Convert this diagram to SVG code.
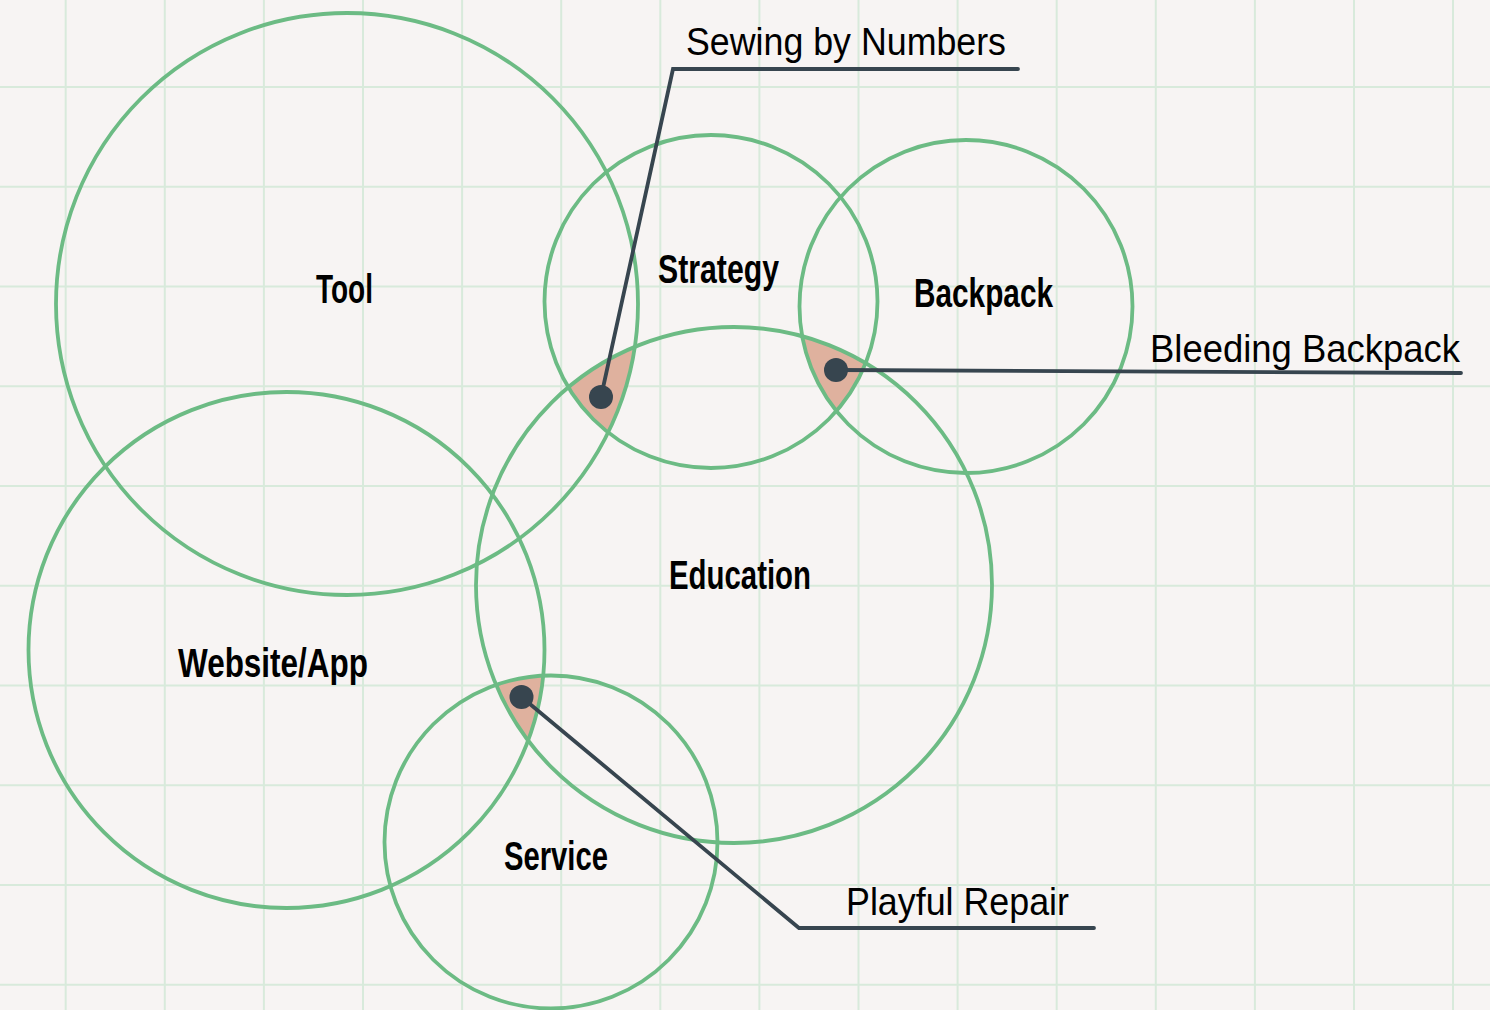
<svg xmlns="http://www.w3.org/2000/svg" width="1490" height="1010" viewBox="0 0 1490 1010">
<style>
.grid line{stroke:#d8eadb;stroke-width:2}
.ring{fill:none;stroke:#6cbb84;stroke-width:3.8}
.overlap{fill:#dfb19e;stroke:none}
.lead{fill:none;stroke:#37454f;stroke-width:3.8;stroke-linecap:round;stroke-linejoin:miter}
.dot{fill:#37454f}
.lbl{font-family:"Liberation Sans Narrow","Liberation Sans",Arial,sans-serif;font-weight:bold;font-size:40px;fill:#000}
.note{font-family:"Liberation Sans Narrow","Liberation Sans",Arial,sans-serif;font-weight:normal;font-size:39px;fill:#000}
</style>
<defs>
<clipPath id="cTool"><circle cx="347" cy="304" r="291"/></clipPath>
<clipPath id="cStrat"><circle cx="711" cy="301.5" r="166.5"/></clipPath>
<clipPath id="cBack"><circle cx="966" cy="306.5" r="166.5"/></clipPath>
<clipPath id="cWeb"><circle cx="286.5" cy="650" r="258"/></clipPath>
<clipPath id="cServ"><circle cx="551" cy="842" r="166.5"/></clipPath>
</defs>
<rect x="0" y="0" width="1490" height="1010" fill="#f7f4f3"/>
<g class="grid">
<line x1="65.7" y1="0" x2="65.7" y2="1010"/>
<line x1="164.8" y1="0" x2="164.8" y2="1010"/>
<line x1="263.9" y1="0" x2="263.9" y2="1010"/>
<line x1="363" y1="0" x2="363" y2="1010"/>
<line x1="462.1" y1="0" x2="462.1" y2="1010"/>
<line x1="561.2" y1="0" x2="561.2" y2="1010"/>
<line x1="660.3" y1="0" x2="660.3" y2="1010"/>
<line x1="759.4" y1="0" x2="759.4" y2="1010"/>
<line x1="858.5" y1="0" x2="858.5" y2="1010"/>
<line x1="957.6" y1="0" x2="957.6" y2="1010"/>
<line x1="1056.7" y1="0" x2="1056.7" y2="1010"/>
<line x1="1155.8" y1="0" x2="1155.8" y2="1010"/>
<line x1="1254.9" y1="0" x2="1254.9" y2="1010"/>
<line x1="1354" y1="0" x2="1354" y2="1010"/>
<line x1="1453" y1="0" x2="1453" y2="1010"/>
<line x1="0" y1="87" x2="1490" y2="87"/>
<line x1="0" y1="186.7" x2="1490" y2="186.7"/>
<line x1="0" y1="286.5" x2="1490" y2="286.5"/>
<line x1="0" y1="386.2" x2="1490" y2="386.2"/>
<line x1="0" y1="486" x2="1490" y2="486"/>
<line x1="0" y1="585.7" x2="1490" y2="585.7"/>
<line x1="0" y1="685.4" x2="1490" y2="685.4"/>
<line x1="0" y1="785.2" x2="1490" y2="785.2"/>
<line x1="0" y1="884.9" x2="1490" y2="884.9"/>
<line x1="0" y1="984.7" x2="1490" y2="984.7"/>
</g>
<g id="overlaps">
<g clip-path="url(#cTool)"><g clip-path="url(#cStrat)"><circle class="overlap" cx="734" cy="585" r="258"/></g></g>
<g clip-path="url(#cStrat)"><g clip-path="url(#cBack)"><circle class="overlap" cx="734" cy="585" r="258"/></g></g>
<g clip-path="url(#cWeb)"><g clip-path="url(#cServ)"><circle class="overlap" cx="734" cy="585" r="258"/></g></g>
</g>
<g id="tool"><circle class="ring" cx="347" cy="304" r="291"/><text class="lbl" x="316" y="303" textLength="57" lengthAdjust="spacingAndGlyphs">Tool</text></g>
<g id="strategy"><circle class="ring" cx="711" cy="301.5" r="166.5"/><text class="lbl" x="658" y="283" textLength="121" lengthAdjust="spacingAndGlyphs">Strategy</text></g>
<g id="backpack"><circle class="ring" cx="966" cy="306.5" r="166.5"/><text class="lbl" x="914" y="307" textLength="139" lengthAdjust="spacingAndGlyphs">Backpack</text></g>
<g id="education"><circle class="ring" cx="734" cy="585" r="258"/><text class="lbl" x="669" y="589" textLength="142" lengthAdjust="spacingAndGlyphs">Education</text></g>
<g id="website"><circle class="ring" cx="286.5" cy="650" r="258"/><text class="lbl" x="178" y="677" textLength="190" lengthAdjust="spacingAndGlyphs">Website/App</text></g>
<g id="service"><circle class="ring" cx="551" cy="842" r="166.5"/><text class="lbl" x="504" y="870" textLength="104" lengthAdjust="spacingAndGlyphs">Service</text></g>
<g id="connectors">
<polyline class="lead" points="601,397 673,69 1018,69"/>
<polyline class="lead" points="836,370 1461,373"/>
<polyline class="lead" points="521.5,697 799,928 1094,928"/>
<circle class="dot" cx="601" cy="397" r="12"/>
<circle class="dot" cx="836" cy="370" r="12"/>
<circle class="dot" cx="521.5" cy="697" r="12"/>
</g>
<g id="sewing"><text class="note" x="686" y="55" textLength="320" lengthAdjust="spacingAndGlyphs">Sewing by Numbers</text></g>
<g id="bleeding"><text class="note" x="1150" y="362" textLength="310" lengthAdjust="spacingAndGlyphs">Bleeding Backpack</text></g>
<g id="playful"><text class="note" x="846" y="915" textLength="223" lengthAdjust="spacingAndGlyphs">Playful Repair</text></g>
</svg>
